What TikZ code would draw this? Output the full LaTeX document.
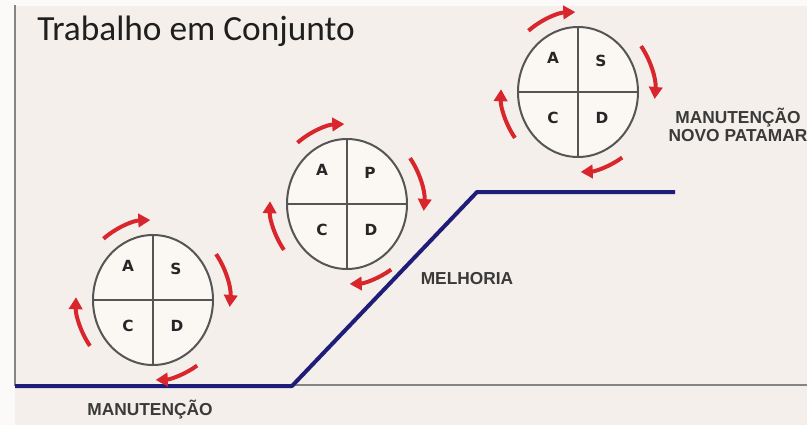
\documentclass[tikz,border=0pt]{standalone}
\usepackage{fontspec}
\setmainfont{Liberation Sans}
\newfontfamily\titlefont{Carlito}
\newfontfamily\letterfont{DejaVu Sans}
\usetikzlibrary{shapes.geometric,arrows.meta,calc}
\definecolor{bgbeige}{HTML}{F4EFEA}
\definecolor{bgwhite}{HTML}{FBFAF8}
\definecolor{axisgray}{HTML}{858585}
\definecolor{navyline}{HTML}{1E1E78}
\definecolor{pdcared}{HTML}{D8262C}
\definecolor{ringgray}{HTML}{555555}
\definecolor{labelgray}{HTML}{3A3A3A}
\definecolor{ringfill}{HTML}{FBF8F4}
\begin{document}
\begin{tikzpicture}[x=0.75pt,y=-0.75pt,
  cyclering/.style={ellipse, draw=ringgray, line width=1.5pt, fill=ringfill,
    minimum width=90pt, minimum height=97.5pt, inner sep=0pt},
  ringline/.style={draw=ringgray, line width=1.2pt},
  letter/.style={font=\letterfont\bfseries\fontsize{11.5}{12}\selectfont, text=black!85, inner sep=0pt},
  rotarrow/.style={draw=pdcared, line width=3pt, -{Triangle[length=9pt,width=10pt]}},
  lbl/.style={font=\bfseries\fontsize{13}{14}\selectfont, text=labelgray, inner sep=0pt},
  axisline/.style={draw=axisgray, line width=2.2pt},
  levelline/.style={draw=navyline, line width=3pt, line join=round}
]
\useasboundingbox (0,0) rectangle (807,425);
\fill[bgwhite] (0,0) rectangle (807,425);
\fill[bgbeige] (15,6) rectangle (807,425);

% axes
\coordinate (ytop) at (15,5);
\coordinate (orig) at (15,385);
\coordinate (xend) at (807,385);
\draw[axisline] (ytop) -- (orig) -- (xend);

% level line
\coordinate (b0) at (15,386);
\coordinate (b1) at (292,386);
\coordinate (b2) at (477,192);
\coordinate (b3) at (675,192);
\draw[levelline] (b0) -- (b1) -- (b2) -- (b3);

% title
\node[anchor=base west, inner sep=0pt, text=black!88, font=\titlefont\fontsize{26.5}{26.5}\selectfont] (title) at (37,40) {Trabalho em Conjunto};

% PDCA circles
\node[cyclering] (c1) at (153,300) {};
\node[cyclering] (c2) at (347,204) {};
\node[cyclering] (c3) at (578,92) {};

\foreach \n/\tr in {c1/S, c2/P, c3/S} {
  \draw[ringline] (\n.north) -- (\n.south);
  \draw[ringline] (\n.west) -- (\n.east);
  \node[letter] (\n A) at ($(\n)+(-25,-34)$) {A};
  \node[letter] (\n T) at ($(\n)+(23,-31)$) {\tr};
  \node[letter] (\n C) at ($(\n)+(-25,26)$) {C};
  \node[letter] (\n D) at ($(\n)+(24,26)$) {D};
  \draw[rotarrow] ($(\n)+(-130:77 and 80)$) arc[start angle=-130, end angle=-92, x radius=77, y radius=80];
  \draw[rotarrow] ($(\n)+(-35:77 and 80)$) arc[start angle=-35, end angle=5, x radius=77, y radius=80];
  \draw[rotarrow] ($(\n)+(55:77 and 80)$) arc[start angle=55, end angle=88, x radius=77, y radius=80];
  \draw[rotarrow] ($(\n)+(145:77 and 80)$) arc[start angle=145, end angle=182, x radius=77, y radius=80];
}

% labels
\node[lbl] (lman) at (150,410) {MANUTENÇÃO};
\node[lbl] (lmel) at (467,279) {MELHORIA};
\node[lbl, align=center] (lnovo) at (738,125) {MANUTENÇÃO\\NOVO PATAMAR};
\end{tikzpicture}
\end{document}
